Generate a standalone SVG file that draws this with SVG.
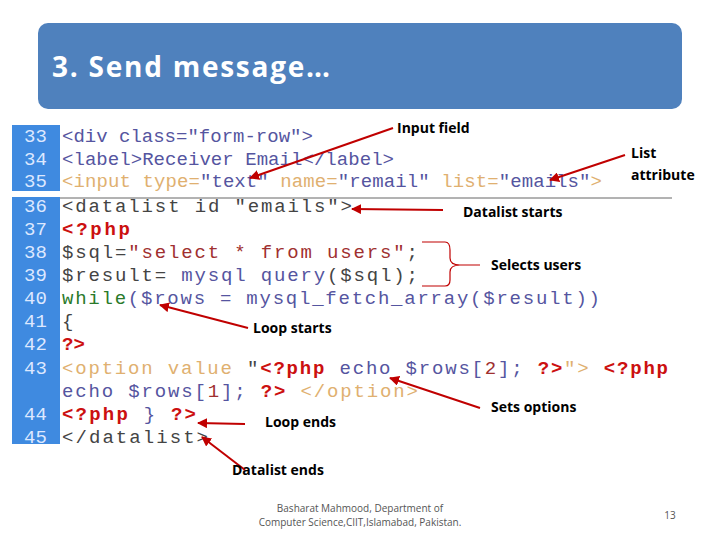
<svg xmlns="http://www.w3.org/2000/svg" width="720" height="540" viewBox="0 0 720 540">
<style>
.c{font-family:"Liberation Mono",monospace;font-size:19px;fill:#5555a0}
.n{font-family:"Liberation Mono",monospace;font-size:19px;fill:#dde8ff}
.p{fill:#cc1010;font-weight:bold}
.o{fill:#e0b070}
.k{fill:#444}
.r{fill:#a03030}
.g{fill:#2a7a2a}
.l{font-family:"Open Sans",sans-serif;font-weight:bold;font-size:14px;fill:#000}
.a{stroke:#c00000;stroke-width:2;fill:none}
.f{font-family:"Open Sans",sans-serif;font-size:10px;fill:#555}
</style>
<defs><marker id="m" viewBox="0 0 10 10" refX="9" refY="5" markerWidth="5" markerHeight="5" orient="auto"><path d="M0,0L10,5L0,10z" fill="#c00000"/></marker></defs>
<rect width="720" height="540" fill="#fff"/>
<g id="title"><rect x="38" y="23" width="644" height="86" rx="10" fill="#4f81bd"/>
<text x="52" y="77" font-family="Open Sans,sans-serif" font-weight="bold" font-size="28" fill="#fff" textLength="278">3. Send message…</text></g>
<g id="code">
<rect x="12" y="125" width="48" height="66" fill="#3f8ae0"/>
<rect x="12" y="197" width="48" height="247" fill="#3f8ae0"/>
<line x1="60" y1="198" x2="672" y2="198" stroke="#666" stroke-width="1"/>
<text class="n" x="24" y="142">33</text><text class="n" x="24" y="165">34</text><text class="n" x="24" y="187">35</text>
<text class="n" x="24" y="212">36</text><text class="n" x="24" y="235">37</text><text class="n" x="24" y="258">38</text>
<text class="n" x="24" y="281">39</text><text class="n" x="24" y="304">40</text><text class="n" x="24" y="327">41</text>
<text class="n" x="24" y="350">42</text><text class="n" x="24" y="374">43</text><text class="n" x="24" y="420">44</text>
<text class="n" x="24" y="443">45</text>
<text class="c" x="62" y="142">&lt;div class="form-row"&gt;</text>
<text class="c" x="62" y="165" textLength="332">&lt;label&gt;Receiver Email&lt;/label&gt;</text>
<text class="c" x="62" y="187" textLength="540"><tspan class="o">&lt;input type=</tspan>"text"<tspan class="o"> name=</tspan>"remail"<tspan class="o"> list=</tspan>"emails"<tspan class="o">&gt;</tspan></text>
<text class="c k" x="62" y="212" textLength="290">&lt;datalist id "emails"&gt;</text>
<text class="c p" x="62" y="235" textLength="68">&lt;?php</text>
<text class="c k" x="62" y="258" textLength="356">$sql=<tspan class="r">"select * from users"</tspan>;</text>
<text class="c k" x="62" y="281" textLength="356">$result= <tspan fill="#5555a0">mysql query</tspan>($sql);</text>
<text class="c" x="62" y="304" textLength="538"><tspan class="g">while</tspan>($rows = mysql_fetch_array($result))</text>
<text class="c k" x="62" y="327">{</text>
<text class="c p" x="62" y="350">?&gt;</text>
<text class="c" x="62" y="374" textLength="606"><tspan class="o">&lt;option value </tspan><tspan class="k">"</tspan><tspan class="p">&lt;?php</tspan> echo $rows[<tspan class="r">2</tspan>]; <tspan class="p">?&gt;</tspan><tspan class="o">"&gt; </tspan><tspan class="p">&lt;?php</tspan></text>
<text class="c" x="62" y="397" textLength="356">echo $rows[<tspan class="r">1</tspan>]; <tspan class="p">?&gt;</tspan><tspan class="o"> &lt;/option&gt;</tspan></text>
<text class="c" x="62" y="420" textLength="134"><tspan class="p">&lt;?php</tspan> } <tspan class="p">?&gt;</tspan></text>
<text class="c k" x="62" y="443" textLength="146">&lt;/datalist&gt;</text>
</g>
<g id="connectors">
<line class="a" x1="393" y1="128" x2="250" y2="178" marker-end="url(#m)"/>
<line class="a" x1="625" y1="155" x2="550" y2="180" marker-end="url(#m)"/>
<line class="a" x1="443" y1="210" x2="352" y2="209" marker-end="url(#m)"/>
<path d="M422,242 H445 Q450,242 450,250 V258 Q450,265 460,265 Q450,265 450,272 V280 Q450,286 445,286 H422 M460,265 H480" stroke="#c00000" stroke-width="1.2" fill="none"/>
<line class="a" x1="248" y1="328" x2="160" y2="305" marker-end="url(#m)"/>
<line class="a" x1="480" y1="408" x2="390" y2="378" marker-end="url(#m)"/>
<line class="a" x1="245" y1="424" x2="198" y2="423" marker-end="url(#m)"/>
<line class="a" x1="245" y1="470" x2="202" y2="437" marker-end="url(#m)"/>
</g>
<g id="labels">
<text class="l" x="397" y="133">Input field</text>
<text class="l" x="631" y="158">List</text><text class="l" x="631" y="180">attribute</text>
<text class="l" x="463" y="217">Datalist starts</text>
<text class="l" x="491" y="270">Selects users</text>
<text class="l" x="253" y="333">Loop starts</text>
<text class="l" x="491" y="412">Sets options</text>
<text class="l" x="265" y="427">Loop ends</text>
<text class="l" x="232" y="475">Datalist ends</text>
</g>
<g id="footer">
<text class="f" x="360" y="512" text-anchor="middle">Basharat Mahmood, Department of</text>
<text class="f" x="360" y="526" text-anchor="middle">Computer Science,CIIT,Islamabad, Pakistan.</text>
<text class="f" x="670" y="519" text-anchor="middle">13</text>
</g>
</svg>
